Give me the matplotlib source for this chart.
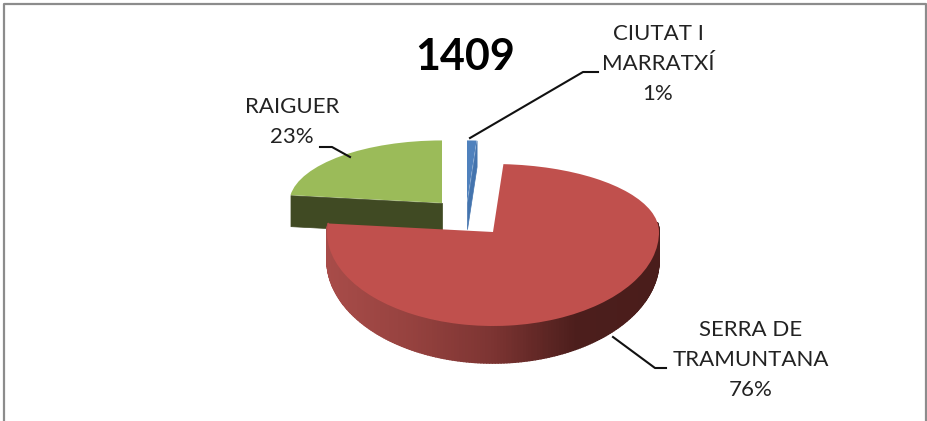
import matplotlib
matplotlib.use('Agg')
import matplotlib.pyplot as plt
import numpy as np
from matplotlib.collections import PolyCollection
from matplotlib.colors import LinearSegmentedColormap
from matplotlib.transforms import IdentityTransform

plt.rcParams['font.family'] = ['Lato', 'DejaVu Sans']

title = '1409'
labels = ['CIUTAT I\nMARRATXÍ\n1%', 'SERRA DE\nTRAMUNTANA\n76%', 'RAIGUER\n23%']
values = [1, 76, 23]
colors = ['#4F81BD', '#C0504D', '#9BBB59']

W, H = 927, 421
cx, cy, R = 493, 232, 166   # red slice, pixels
up, down = 68 / R, 94 / R   # tilt, back half is flatter than front half


def squash(y):
    y = np.asarray(y, dtype=float)
    return np.where(y > 0, y * up, y * down)


def unsquash(y):
    y = np.asarray(y, dtype=float)
    return np.where(y > 0, y / up, y / down)


fig = plt.figure(figsize=(W / 100, H / 100), dpi=100)
ax = fig.add_axes([0, 0, 1, 1])
wedges, _ = ax.pie(values, colors=colors, startangle=90, counterclock=False, radius=1)
ax.set_aspect('auto')
ax.set_yscale('function', functions=(squash, unsquash))
ax.set_xlim(-cx / R, (W - cx) / R)
ax.set_ylim((cy - H) / R / down, cy / R / up)
ax.set_axis_off()

# slices pulled out
back_y = 29 / R / up
wedges[0].set_center(((467 - cx) / R, back_y))
wedges[0].set_radius(0.92)
wedges[2].set_center(((442 - cx) / R, back_y))
wedges[2].set_radius(0.92)
for w in wedges:
    w.set_zorder(3)


def rim(w, deg):
    a = np.radians(deg)
    x = w.center[0] + w.r * np.cos(a)
    y = w.center[1] + w.r * np.sin(a)
    return ax.transData.transform(np.column_stack([x, y]))


# red side wall, gets darker to the right
red = wedges[1]
deg = np.arange(red.theta1, 8, 1.0)
pts = rim(red, deg)
depth = 28 + 9 * np.clip(-np.sin(np.radians(deg)), 0, 1)
quads = []
for i in range(len(deg) - 1):
    quads.append([pts[i], pts[i + 1],
                  pts[i + 1] - [0, depth[i + 1]], pts[i] - [0, depth[i]]])
cmap = LinearSegmentedColormap.from_list(
    'wall', ['#a84c49', '#96423f', '#7c3432', '#4c1e1c', '#4a1d1b'])
shade = cmap((pts[:-1, 0] - pts[:, 0].min()) / (pts[:, 0].max() - pts[:, 0].min()))
wall = PolyCollection(quads, facecolors=shade, edgecolors=shade, linewidths=1.2,
                      transform=IdentityTransform(), zorder=2)
ax.add_collection(wall, autolim=False)

# cut faces of the two small slices
for w, edge, col, d in [(wedges[2], wedges[2].theta2, '#404A23', 31),
                        (wedges[0], wedges[0].theta1, '#4474AE', 26)]:
    a = rim(w, np.array([edge]))[0]
    b = ax.transData.transform([w.center])[0]
    ax.add_collection(PolyCollection([[a, b, b - [0, d], a - [0, d]]],
                                     facecolors=col, edgecolors=col, linewidths=0.5,
                                     transform=IdentityTransform(), zorder=1),
                      autolim=False)

# overlay in picture pixels for texts, leaders and frame
ov = fig.add_axes([0, 0, 1, 1], facecolor='none')
ov.set_xlim(0, W)
ov.set_ylim(H, 0)
ov.set_axis_off()

ov.plot([4, 4, 926, 926], [H, 4, 4, H], color='#8C8C8C', lw=1.6)

ov.plot([470, 583, 598], [138, 72, 72], color='#111111', lw=1.5)
ov.plot([350, 332, 320], [157, 147, 147], color='#111111', lw=1.5)
ov.plot([613, 655, 666], [337, 368, 368], color='#111111', lw=1.5)

ov.text(465, 57, title, fontsize=31, fontweight='bold', ha='center', va='center', color='black')
ov.text(658, 64, labels[0], fontsize=16, ha='center', va='center', color='#222222', linespacing=1.65)
ov.text(292, 122, labels[2], fontsize=16, ha='center', va='center', color='#222222', linespacing=1.65)
ov.text(751, 360, labels[1], fontsize=16, ha='center', va='center', color='#222222', linespacing=1.65)

fig.savefig('out.png', dpi=100)
